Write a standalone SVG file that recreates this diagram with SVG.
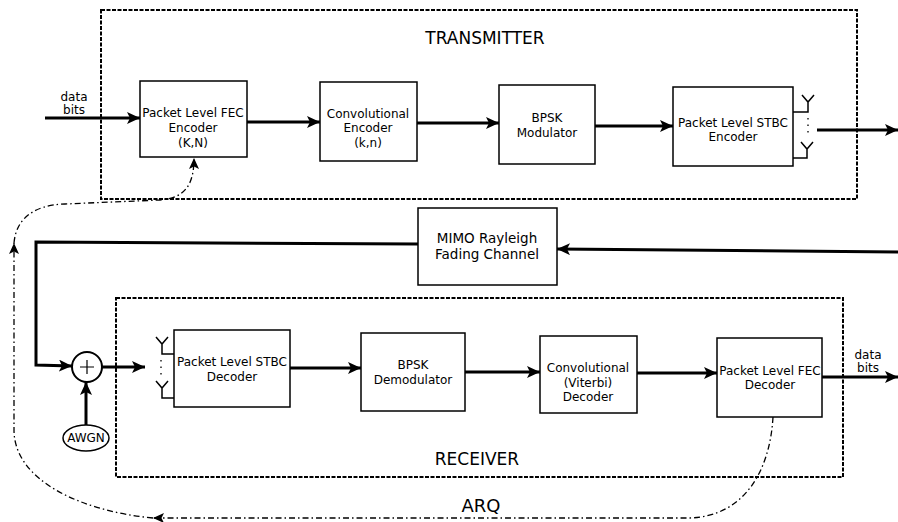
<svg xmlns="http://www.w3.org/2000/svg" width="898" height="522" viewBox="0 0 898 522">
<defs>
<marker id="ah" markerUnits="userSpaceOnUse" markerWidth="14" markerHeight="12" refX="13" refY="6" orient="auto">
<path d="M0,0 L13,6 L0,12 L3,6 Z" fill="#000"/>
</marker>
<marker id="ahs" markerUnits="userSpaceOnUse" markerWidth="12" markerHeight="10" refX="11" refY="5" orient="auto">
<path d="M0,0 L11,5 L0,10 L2.5,5 Z" fill="#000"/>
</marker>
</defs>
<style>
.blk{fill:#fff;stroke:#000;stroke-width:1.5}
.grp{fill:none;stroke:#000;stroke-width:2;stroke-dasharray:4 1.5}
.t{font-family:"DejaVu Sans","Liberation Sans",sans-serif;font-size:12px;text-anchor:middle;fill:#000}
.big{font-family:"DejaVu Sans","Liberation Sans",sans-serif;font-size:17px;text-anchor:middle;fill:#000}
.ch{font-family:"DejaVu Sans","Liberation Sans",sans-serif;font-size:13.5px;text-anchor:middle;fill:#000}
.w{fill:none;stroke:#000;stroke-width:3}
.thin{fill:none;stroke:#000;stroke-width:1.5}
.dd{fill:none;stroke:#000;stroke-width:1.3;stroke-dasharray:6 3 1.5 3}
</style>
<rect width="898" height="522" fill="#fff"/>

<g id="transmitter">
<rect class="grp" x="101" y="10" width="756" height="189"/>
<text class="big" x="485" y="44">TRANSMITTER</text>
</g>
<g id="receiver">
<rect class="grp" x="116" y="298" width="727" height="179"/>
<text class="big" x="477" y="465">RECEIVER</text>
</g>

<g id="connectors">
<line class="w" x1="45" y1="118" x2="140" y2="118" marker-end="url(#ah)"/>
<line class="w" x1="247" y1="122" x2="320" y2="122" marker-end="url(#ah)"/>
<line class="w" x1="417" y1="123" x2="499" y2="123" marker-end="url(#ah)"/>
<line class="w" x1="595" y1="126" x2="673" y2="126" marker-end="url(#ah)"/>
<line class="w" x1="817" y1="130" x2="898" y2="130" marker-end="url(#ah)"/>
<polyline class="w" points="898,252 557,249" marker-end="url(#ah)"/>
<polyline class="w" points="418,244 36,242 36,365 72,366" marker-end="url(#ah)"/>
<line class="w" x1="102" y1="367" x2="145" y2="367" marker-end="url(#ah)"/>
<line class="w" x1="86" y1="425" x2="86" y2="382" marker-end="url(#ah)"/>
<line class="w" x1="290" y1="368" x2="361" y2="368" marker-end="url(#ah)"/>
<line class="w" x1="465" y1="372" x2="540" y2="372" marker-end="url(#ah)"/>
<line class="w" x1="637" y1="373" x2="717" y2="373" marker-end="url(#ah)"/>
<line class="w" x1="822" y1="377" x2="898" y2="377" marker-end="url(#ah)"/>
<path class="dd" d="M773,417 C770,470 745,516 690,518 L153,518" marker-end="url(#ahs)"/>
<path class="dd" d="M153,518 C80,511 14,480 14,430 L14,243" marker-end="url(#ahs)"/>
<path class="dd" d="M14,243 C16,220 32,205 65,204 L160,200 C185,198 194,185 194,158" marker-end="url(#ahs)"/>
<text class="big" x="481" y="512" style="font-size:18px">ARQ</text>
<text class="t" x="74" y="101">data</text>
<text class="t" x="74" y="114">bits</text>
<text class="t" x="868" y="359">data</text>
<text class="t" x="868" y="372">bits</text>
</g>

<g id="fec_encoder">
<rect class="blk" x="140" y="81" width="107" height="76"/>
<text class="t" x="193" y="117">Packet Level FEC</text>
<text class="t" x="193" y="132">Encoder</text>
<text class="t" x="193" y="147">(K,N)</text>
</g>
<g id="conv_encoder">
<rect class="blk" x="320" y="82" width="97" height="79"/>
<text class="t" x="368" y="118">Convolutional</text>
<text class="t" x="368" y="132">Encoder</text>
<text class="t" x="368" y="147">(k,n)</text>
</g>
<g id="bpsk_mod">
<rect class="blk" x="499" y="85" width="96" height="79"/>
<text class="t" x="547" y="122">BPSK</text>
<text class="t" x="547" y="137">Modulator</text>
</g>
<g id="stbc_encoder">
<rect class="blk" x="673" y="87" width="120" height="79"/>
<text class="t" x="733" y="127">Packet Level STBC</text>
<text class="t" x="733" y="141">Encoder</text>
<path class="thin" d="M793,112 H808 V102 M802,95 L808,102 L814,95 M793,158 H807 V149 M801,142 L807,149 L813,142"/>
<path d="M808,118 V137" stroke="#000" stroke-width="1.3" stroke-dasharray="1.5 5" fill="none"/>
</g>
<g id="mimo_channel">
<rect class="blk" x="418" y="208" width="139" height="77"/>
<text class="ch" x="487" y="243">MIMO Rayleigh</text>
<text class="ch" x="487" y="259">Fading Channel</text>
</g>
<g id="adder">
<circle cx="87" cy="367" r="15" fill="#fff" stroke="#000" stroke-width="2"/>
<path d="M87,360 V374 M80,367 H94" stroke="#000" stroke-width="1.2"/>
</g>
<g id="awgn">
<ellipse cx="86" cy="438" rx="23" ry="13" fill="#fff" stroke="#000" stroke-width="1.5"/>
<text class="t" x="86" y="442" style="font-size:12px">AWGN</text>
</g>
<g id="stbc_decoder">
<rect class="blk" x="174" y="330" width="116" height="77"/>
<text class="t" x="232" y="366">Packet Level STBC</text>
<text class="t" x="232" y="381">Decoder</text>
<path class="thin" d="M174,354 H162 V344 M156,337 L162,344 L168,337 M174,398 H162 V388 M156,381 L162,388 L168,381"/>
<path d="M161,360 V377" stroke="#000" stroke-width="1.3" stroke-dasharray="1.5 5" fill="none"/>
</g>
<g id="bpsk_demod">
<rect class="blk" x="361" y="333" width="104" height="78"/>
<text class="t" x="413" y="369">BPSK</text>
<text class="t" x="413" y="384">Demodulator</text>
</g>
<g id="conv_decoder">
<rect class="blk" x="540" y="336" width="97" height="77"/>
<text class="t" x="588" y="372">Convolutional</text>
<text class="t" x="588" y="387">(Viterbi)</text>
<text class="t" x="588" y="401">Decoder</text>
</g>
<g id="fec_decoder">
<rect class="blk" x="717" y="338" width="105" height="79"/>
<text class="t" x="770" y="375">Packet Level FEC</text>
<text class="t" x="770" y="389">Decoder</text>
</g>
</svg>
